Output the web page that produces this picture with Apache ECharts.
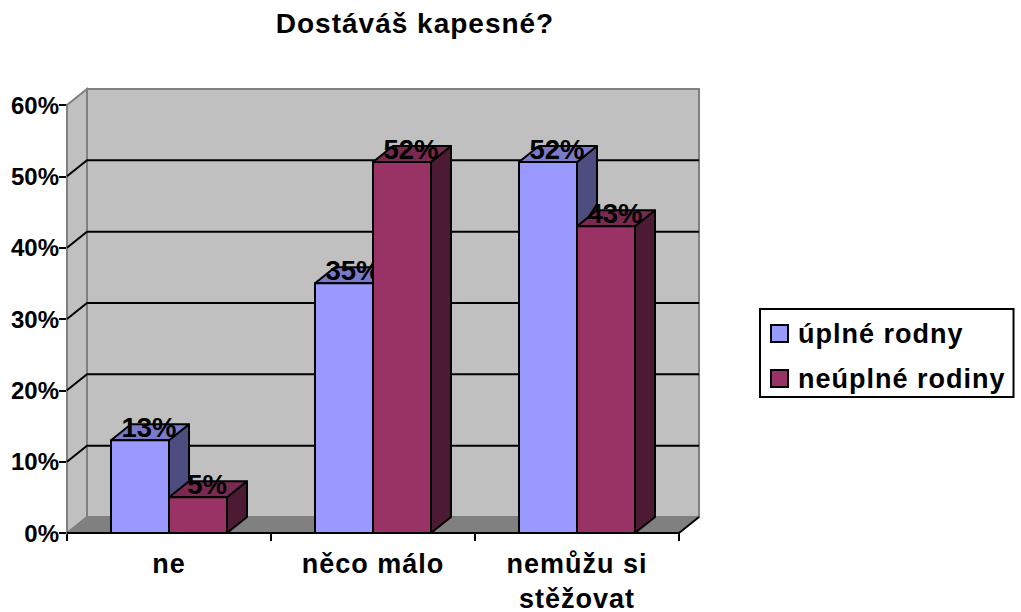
<!DOCTYPE html>
<html>
<head>
<meta charset="utf-8">
<style>
  html, body { margin: 0; padding: 0; background: #fff; }
  #chart { width: 1021px; height: 612px; }
  /* title, legend and category labels are set wide in the original */
  #chart svg text[style*=" 27px"], #chart svg text[style*=" 28px"] { letter-spacing: 1px; }
</style>
<script src="https://cdn.jsdelivr.net/npm/echarts@6/dist/echarts.min.js"></script>
</head>
<body>
<div id="chart"></div>
<script>
const categories = ['ne', 'něco málo', 'nemůžu si\nstěžovat'];
const seriesNames = ['úplné rodny', 'neúplné rodiny'];
const fullFamilies = [13, 35, 52];
const singleParent = [5, 52, 43];
const yTicks = [0, 10, 20, 30, 40, 50, 60];

// 3d look: how far the back of the box is shifted from the front
const DX = 20;
const DY = -16;
const BAR_W = 58;
const FONT = '"Liberation Sans", Arial, sans-serif';

// floor, back wall, side wall and the gridlines
function renderWalls(params, api) {
  const cs = params.coordSys;
  const x0 = cs.x, x1 = cs.x + cs.width;
  const y0 = cs.y, y1 = cs.y + cs.height;
  const kids = [
    { type: 'polygon', shape: { points: [[x0, y1], [x0 + DX, y1 + DY], [x0 + DX, y0 + DY], [x0, y0]] },
      style: { fill: '#c0c0c0', stroke: '#808080', lineWidth: 2 } },
    { type: 'rect', shape: { x: x0 + DX, y: y0 + DY, width: cs.width, height: cs.height },
      style: { fill: '#c0c0c0', stroke: '#808080', lineWidth: 2 } },
    { type: 'polygon', shape: { points: [[x0, y1], [x1, y1], [x1 + DX, y1 + DY], [x0 + DX, y1 + DY]] },
      style: { fill: '#808080', stroke: '#808080', lineWidth: 1 } },
    { type: 'polyline', shape: { points: [[x0, y1], [x1, y1], [x1 + DX, y1 + DY]] },
      style: { fill: 'none', stroke: '#000', lineWidth: 2 } }
  ];
  yTicks.forEach(function (t) {
    if (t === 0 || t === 60) return;
    const y = api.coord([0, t])[1];
    kids.push({ type: 'polyline',
      shape: { points: [[x0, y], [x0 + DX, y + DY], [x1 + DX, y + DY]] },
      style: { fill: 'none', stroke: '#000', lineWidth: 2 } });
  });
  return { type: 'group', children: kids };
}

function barItem(front, side, top, offset) {
  return function (params, api) {
    const p = api.coord([api.value(0), api.value(1)]);
    const base = api.coord([api.value(0), 0]);
    const l = p[0] + offset, r = l + BAR_W;
    const stroke = { stroke: '#000', lineWidth: 2, lineJoin: 'round' };
    return { type: 'group', children: [
      { type: 'polygon', shape: { points: [[r, p[1]], [r + DX, p[1] + DY], [r + DX, base[1] + DY], [r, base[1]]] },
        style: Object.assign({ fill: side }, stroke) },
      { type: 'polygon', shape: { points: [[l, p[1]], [l + DX, p[1] + DY], [r + DX, p[1] + DY], [r, p[1]]] },
        style: Object.assign({ fill: top }, stroke) },
      { type: 'rect', shape: { x: l, y: p[1], width: BAR_W, height: base[1] - p[1] },
        style: Object.assign({ fill: front }, stroke) },
      { type: 'text', x: l + BAR_W / 2 + 9, y: p[1] - 13,
        style: { text: api.value(1) + '%', fontFamily: FONT, fontWeight: 'bold', fontSize: 27.5,
          fill: '#000', align: 'center', verticalAlign: 'middle' } }
    ] };
  };
}

const chart = echarts.init(document.getElementById('chart'), null, { renderer: 'svg' });
chart.setOption({
  animation: false,
  backgroundColor: '#fff',
  title: {
    text: 'Dostáváš kapesné?',
    left: 410, top: 4, textAlign: 'center',
    textStyle: { fontFamily: FONT, fontWeight: 'bold', fontSize: 28, color: '#000' }
  },
  legend: {
    orient: 'vertical',
    left: 760, top: 309,
    padding: [11, 22, 5, 10],
    itemGap: 18,
    itemWidth: 17, itemHeight: 17,
    borderColor: '#000', borderWidth: 2,
    backgroundColor: '#fff',
    data: seriesNames.map(function (n, i) {
      return { name: n, icon: 'rect',
        itemStyle: { color: i === 0 ? '#9999ff' : '#993366', borderColor: '#000', borderWidth: 2 } };
    }),
    textStyle: { fontFamily: FONT, fontWeight: 'bold', fontSize: 27, color: '#000', padding: [0, 0, 0, 5] }
  },
  grid: { left: 67, right: 342, top: 105, bottom: 79, outerBoundsMode: 'none' },
  xAxis: {
    type: 'category',
    data: categories,
    axisLine: { lineStyle: { color: '#000', width: 2 } },
    axisTick: { show: true, length: 8, alignWithLabel: false, lineStyle: { color: '#000', width: 2 } },
    axisLabel: { interval: 0, margin: 13, lineHeight: 35, fontFamily: FONT, fontWeight: 'bold', fontSize: 27, color: '#000' }
  },
  yAxis: {
    type: 'value', min: 0, max: 60, interval: 10,
    axisLine: { show: true, lineStyle: { color: '#000', width: 2 } },
    axisTick: { show: true, length: 8, lineStyle: { color: '#000', width: 2 } },
    splitLine: { show: false },
    axisLabel: { formatter: '{value}%', margin: 8, padding: [0, 0, 2, 0], fontFamily: FONT, fontWeight: 'bold', fontSize: 24, color: '#000' }
  },
  series: [
    { type: 'custom', silent: true, z: 1, renderItem: renderWalls, data: [[0, 0]], legendHoverLink: false,
      encode: { x: 0, y: 1 } },
    { type: 'custom', name: seriesNames[0], z: 2, renderItem: barItem('#9999ff', '#4d4d80', '#7a7acc', -BAR_W),
      itemStyle: { color: '#9999ff' },
      data: fullFamilies.map(function (v, i) { return [i, v]; }), encode: { x: 0, y: 1 } },
    { type: 'custom', name: seriesNames[1], z: 2, renderItem: barItem('#993366', '#4d1a33', '#7a2952', 0),
      itemStyle: { color: '#993366' },
      data: singleParent.map(function (v, i) { return [i, v]; }), encode: { x: 0, y: 1 } }
  ]
});
</script>
</body>
</html>
